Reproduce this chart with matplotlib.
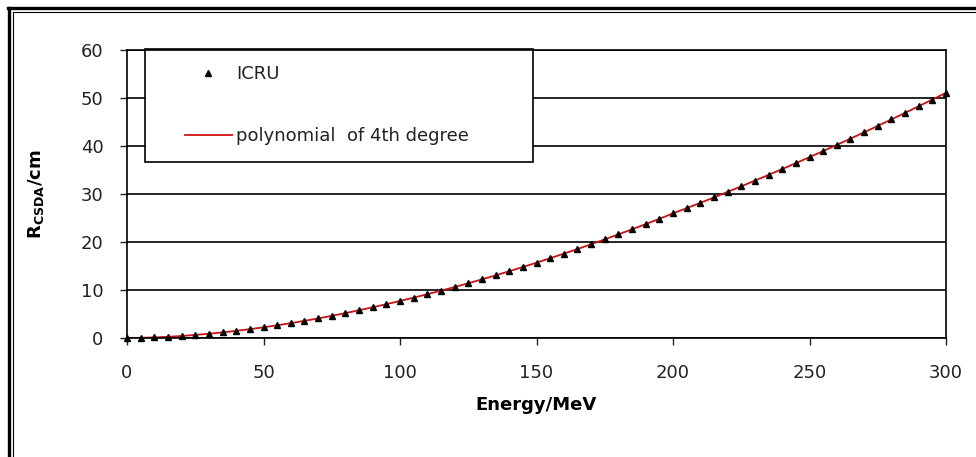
import numpy as np
import matplotlib
matplotlib.use("Agg")
from matplotlib import pyplot as plt
from matplotlib.patches import Rectangle
from matplotlib.lines import Line2D

plt.rcParams['font.family'] = ['DejaVu Sans']
plt.rcParams['mathtext.fontset'] = 'dejavusans'

# proton CSDA range in water (MeV -> cm)
energy = list(range(0, 305, 5))
r_csda = [0.0, 0.036, 0.123, 0.254, 0.426, 0.637, 0.885, 1.170, 1.489, 1.841,
          2.227, 2.644, 3.093, 3.572, 4.080, 4.618, 5.184, 5.777, 6.398, 7.045,
          7.718, 8.41, 9.12, 9.86, 10.62, 11.40, 12.22, 13.05, 13.91, 14.79,
          15.69, 16.62, 17.57, 18.54, 19.53, 20.55, 21.59, 22.65, 23.73, 24.83,
          25.96, 27.05, 28.16, 29.29, 30.44, 31.60, 32.79, 33.98, 35.20, 36.43,
          37.68, 38.95, 40.23, 41.54, 42.85, 44.19, 45.54, 46.90, 48.29, 49.68,
          51.08]
xticks = [0, 50, 100, 150, 200, 250, 300]
yticks = [0, 10, 20, 30, 40, 50, 60]

W, H = 976, 457
fig = plt.figure(figsize=(W / 100, H / 100), dpi=100)
ax = fig.add_axes([127 / W, 1 - 338 / H, (946 - 127) / W, (338 - 50) / H])

ax.set_xlim(0, 300)
ax.set_ylim(0, 60)
ax.set_xticks(xticks)
ax.set_yticks(yticks)
ax.tick_params(direction='out', length=5, width=1, labelsize=13, colors='#222222')
ax.tick_params(axis='x', pad=14)
ax.tick_params(axis='y', pad=12)
ax.yaxis.grid(True, color='black', lw=1.2)
ax.set_axisbelow(True)
for s in ax.spines.values():
    s.set_color('black')
    s.set_linewidth(1.2)

# legend box
ax.add_patch(Rectangle((18 / 819, 176 / 288), 388 / 819, 113 / 288, transform=ax.transAxes,
                       facecolor='white', edgecolor='black', lw=1.2, zorder=1, clip_on=False))

ax.plot(energy, r_csda, ls='none', marker='^', ms=4.5, color='black', label='ICRU', zorder=3, clip_on=False)
ax.plot(energy, r_csda, color='#d01010', lw=1.3, label='polynomial  of 4th degree', zorder=2)

leg = ax.legend(loc='upper left', bbox_to_anchor=((185 - 127) / 819, (338 - 65) / 288),
                frameon=False, fontsize=13, borderpad=0, handlelength=2.6,
                handletextpad=0.25, labelspacing=2.45, borderaxespad=0)
for t in leg.get_texts():
    t.set_color('#222222')

ax.set_xlabel('Energy/MeV', fontsize=13, fontweight='bold')
ax.xaxis.set_label_coords(0.5, (338 - 396) / 288)
ax.set_ylabel(r'$\mathbf{R_{CSDA}/cm}$', fontsize=13)
ax.yaxis.set_label_coords((46 - 127) / 819, 0.5)

# outer double border (left and top)
fig.add_artist(Line2D([9 / W, 9 / W], [0, 1 - 7.5 / H], color='black', lw=2.4))
fig.add_artist(Line2D([8 / W, 1], [1 - 8 / H, 1 - 8 / H], color='black', lw=2.4))
fig.add_artist(Line2D([12.5 / W, 12.5 / W], [0, 1 - 11.5 / H], color='black', lw=0.8))
fig.add_artist(Line2D([12.5 / W, 1], [1 - 11.5 / H, 1 - 11.5 / H], color='black', lw=0.8))

fig.savefig('out.png', dpi=100)
